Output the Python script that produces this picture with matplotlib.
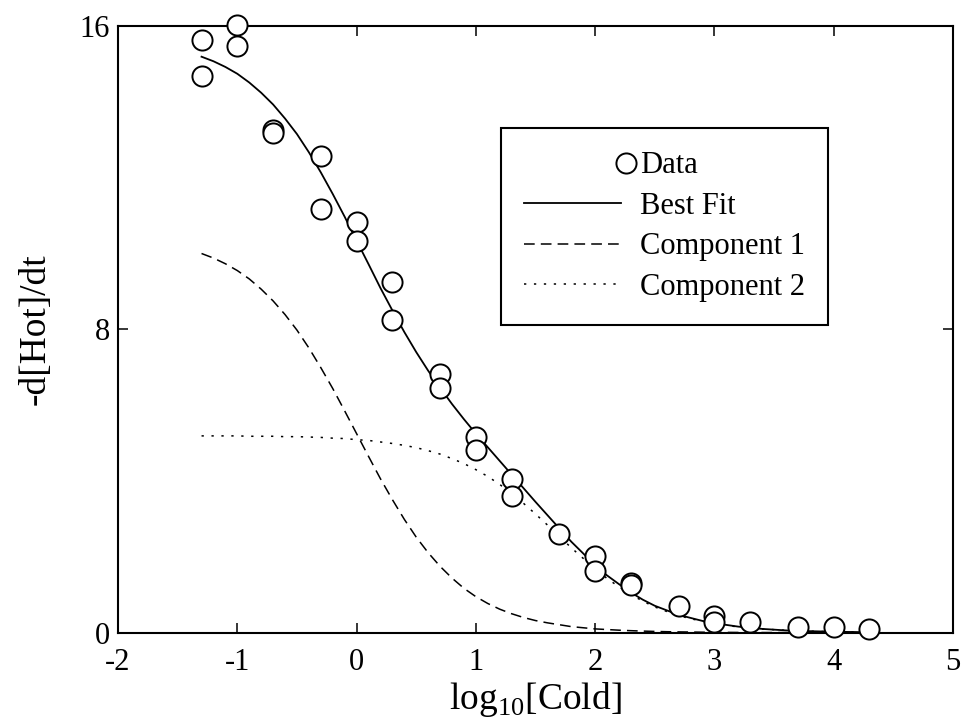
import numpy as np
import matplotlib
matplotlib.use("Agg")
from matplotlib import pyplot as plt
from matplotlib.legend_handler import HandlerLine2D

# measured points, log10 of cold concentration vs rate
data_x = [-1.3, -1.3, -1.0, -1.0, -0.7, -0.7, -0.3, -0.3, 0.0, 0.0,
          0.3, 0.3, 0.7, 0.7, 1.0, 1.0, 1.3, 1.3, 1.7, 2.0, 2.0,
          2.3, 2.3, 2.7, 3.0, 3.0, 3.3, 3.7, 4.0, 4.3]
data_y = [15.64, 14.69, 16.02, 15.48, 13.25, 13.18, 12.56, 11.17, 10.84, 10.33,
          9.26, 8.25, 6.83, 6.45, 5.17, 4.82, 4.06, 3.61, 2.60, 2.01, 1.64,
          1.32, 1.26, 0.70, 0.44, 0.28, 0.29, 0.14, 0.14, 0.09]

# curves
curve_x = [-1.3, -1.2, -1.1, -1.0, -0.9, -0.8, -0.7, -0.6, -0.5, -0.4,
           -0.3, -0.2, -0.1, 0.0, 0.1, 0.2, 0.3, 0.4, 0.5, 0.6,
           0.7, 0.8, 0.9, 1.0, 1.1, 1.2, 1.3, 1.4, 1.5, 1.6,
           1.7, 1.8, 1.9, 2.0, 2.1, 2.2, 2.3, 2.4, 2.5, 2.6,
           2.7, 2.8, 2.9, 3.0, 3.2, 3.4, 3.6, 3.8, 4.0, 4.3]
best_fit = [15.19, 15.07, 14.92, 14.74, 14.51, 14.24, 13.93, 13.56, 13.15, 12.67,
            12.14, 11.57, 10.97, 10.34, 9.72, 9.09, 8.50, 7.93, 7.40, 6.91,
            6.46, 6.03, 5.63, 5.25, 4.89, 4.53, 4.17, 3.81, 3.45, 3.10,
            2.75, 2.40, 2.09, 1.78, 1.51, 1.28, 1.06, 0.87, 0.71, 0.59,
            0.47, 0.39, 0.31, 0.25, 0.16, 0.10, 0.06, 0.04, 0.025, 0.012]
comp1 = [10.00, 9.88, 9.73, 9.55, 9.33, 9.06, 8.75, 8.39, 7.98, 7.51,
         6.99, 6.44, 5.85, 5.25, 4.65, 4.06, 3.51, 2.99, 2.52, 2.11,
         1.75, 1.44, 1.17, 0.95, 0.77, 0.62, 0.50, 0.40, 0.32, 0.26,
         0.21, 0.16, 0.13, 0.10, 0.083, 0.066, 0.053, 0.042, 0.033, 0.026,
         0.021, 0.017, 0.013, 0.010, 0.006, 0.004, 0.003, 0.002, 0.001, 0.0005]
comp2 = [5.19, 5.19, 5.19, 5.19, 5.18, 5.18, 5.18, 5.17, 5.17, 5.16,
         5.15, 5.13, 5.12, 5.09, 5.07, 5.03, 4.99, 4.94, 4.88, 4.80,
         4.71, 4.59, 4.46, 4.30, 4.12, 3.91, 3.67, 3.41, 3.13, 2.84,
         2.54, 2.24, 1.96, 1.68, 1.43, 1.21, 1.01, 0.83, 0.68, 0.56,
         0.45, 0.37, 0.30, 0.24, 0.15, 0.097, 0.062, 0.039, 0.025, 0.012]

x_ticks = [-2, -1, 0, 1, 2, 3, 4, 5]
y_ticks = [0, 8, 16]


# legend marker sits at the right end of the handle, like the original
class RightMarker(HandlerLine2D):
    def get_xdata(self, legend, xdescent, ydescent, width, height, fontsize):
        xm = -xdescent + width + 3
        return [xm - 1, xm + 1], [xm]


plt.rcParams['font.family'] = ['Liberation Serif', 'DejaVu Serif']
plt.rcParams['mathtext.fontset'] = 'custom'
plt.rcParams['mathtext.rm'] = 'Liberation Serif'

fig = plt.figure(figsize=(9.62, 7.22), dpi=100)
ax = fig.add_axes([0.1227, 0.1237, 0.8679, 0.8403])

lw = 1.1
ax.plot(curve_x, best_fit, color='black', lw=1.3, label='Best Fit', zorder=2)
ax.plot(curve_x, comp1, color='black', lw=lw, ls=(0, (7, 4)), label='Component 1', zorder=2)
ax.plot(curve_x, comp2, color='black', lw=lw, ls=(0, (1.5, 5)), label='Component 2', zorder=2)
pts, = ax.plot(data_x, data_y, ls='none', marker='o', ms=14.5, mfc='white',
               mec='black', mew=1.4, label='Data', zorder=3, clip_on=False)

ax.set_xlim(-2, 5)
ax.set_ylim(0, 16)
ax.set_xticks(x_ticks)
ax.set_yticks(y_ticks)
ax.set_xticklabels([str(t) for t in x_ticks])
ax.set_yticklabels([str(t) for t in y_ticks])
ax.tick_params(direction='in', length=7, width=1.1, top=True, right=True,
               labelsize=22)
ax.tick_params(axis='x', pad=11)
ax.tick_params(axis='y', pad=6)
for s in ax.spines.values():
    s.set_linewidth(1.5)

ax.set_xlabel(r'log$_{10}$[Cold]', fontsize=27, labelpad=2)
ax.set_ylabel('-d[Hot]/dt', fontsize=27, labelpad=19)

handles, labels = ax.get_legend_handles_labels()
order = [3, 0, 1, 2]
leg = ax.legend([handles[i] for i in order], [labels[i] for i in order],
                loc='upper left', bbox_to_anchor=(500.7 / 962, 1 - 128.3 / 722),
                bbox_transform=fig.transFigure, borderaxespad=0,
                fontsize=22, fancybox=False, framealpha=1, edgecolor='black',
                handlelength=3.2, handletextpad=0.6, labelspacing=0.38,
                borderpad=0.75, numpoints=1,
                handler_map={pts: RightMarker()})
leg.get_frame().set_linewidth(1.5)

plt.savefig('out.png', dpi=100)
